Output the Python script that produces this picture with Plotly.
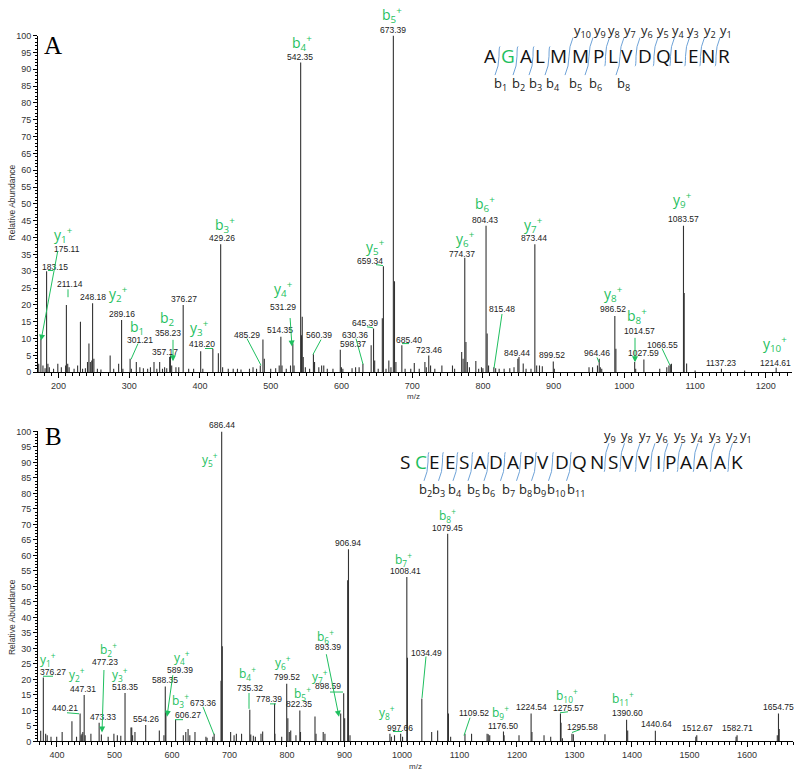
import plotly.graph_objects as go

W, H = 800, 777
GREEN = "#1fbf5f"
BLUE = "#6fa3d8"

# ---------------- data: panel A ----------------
A_mz = [175.11, 183.15, 211.14, 248.18, 289.16, 301.21, 357.17, 358.23, 376.27, 418.20,
        429.26, 485.29, 514.35, 531.29, 542.35, 560.39, 598.37, 630.36, 645.39, 659.34,
        673.39, 685.40, 723.46, 774.37, 804.43, 815.48, 849.44, 873.44, 899.52, 964.46,
        986.52, 1014.57, 1027.59, 1066.55, 1083.57, 1137.23, 1214.61,
        172, 178, 181, 185, 187, 193, 199, 204, 210, 213, 215, 222, 227, 231, 234, 238, 241,
        243, 245, 247, 250, 255, 260, 273, 278, 285, 291, 303, 310, 315, 320, 326, 330, 335,
        339, 343, 347, 350, 353, 360, 366, 370, 384, 391, 401, 404, 426, 432, 440, 447, 453,
        458, 470, 475, 480, 489, 491, 500, 507, 512, 516, 522, 528, 533, 543.5, 544.6, 546,
        549, 555, 562, 568, 572, 575, 580, 588, 600, 602, 615, 620, 625, 642, 647, 652, 657.8,
        663, 667, 670, 675, 677, 690, 698, 703, 710, 718, 720, 726, 732, 742, 757, 760, 770,
        772, 776, 778, 781, 790, 794, 798, 800, 806, 808, 818, 823, 830, 838, 844, 851, 857,
        861, 868, 876, 880, 884, 901, 950, 955, 962, 966, 968, 988, 1016, 1050, 1060, 1063,
        1065, 1084.6, 1088, 1100, 1170]
A_int = [10, 30, 20, 20.5, 15.5, 4, 4.5, 5, 20, 7,
         38, 2, 10.5, 8.5, 92, 5.3, 6.7, 2.5, 13, 31.5,
         100, 8, 5, 34, 43.5, 1.5, 4, 38, 3.2, 4,
         16.7, 3, 3.8, 2.5, 43.5, 1, 1.3,
         2.5, 2, 1.2, 2.5, 1.5, 1, 2.5, 1.5, 2, 2.5, 1.5, 1, 2, 15, 1, 1.2, 3,
         8.5, 3, 3.5, 4, 1, 0.8, 5, 1, 2.5, 1, 1, 3, 1.5, 1.2, 1, 1.5, 3,
         1, 3, 1, 1.5, 1.2, 2, 1.5, 1.5, 1, 1, 6.2, 1, 5.6, 1.5, 1, 1, 1,
         0.8, 1, 1.5, 1, 9.7, 4, 1, 1.2, 2, 2, 1, 2, 2, 11, 16.5, 4.5,
         1.5, 1, 3, 1.5, 2, 2, 1, 1, 1.5, 1, 1.2, 1.5, 1.5, 8, 3.5, 1, 16,
         1, 3.5, 1.5, 27, 3, 1, 1, 2.7, 1, 3, 1.5, 2, 1, 2, 2, 1, 6,
         4, 9, 3, 1.5, 3.3, 1, 1.5, 1.2, 11.5, 2, 1.2, 1, 1, 1.2, 1.5, 4.5, 2.6,
         1, 1, 2, 2, 1.8, 1, 1.5, 1.5, 2, 1.5, 1, 7, 1, 1, 1.5, 2,
         2.3, 23.5, 2.6, 0.5, 0.5]

# ---------------- data: panel B ----------------
B_mz = [376.27, 440.21, 447.31, 473.33, 477.23, 518.35, 554.26, 588.35, 589.39, 606.27,
        673.36, 686.44, 735.32, 778.39, 799.52, 822.35, 893.39, 898.59, 906.94, 997.66,
        1008.41, 1034.49, 1079.45, 1109.52, 1176.50, 1224.54, 1275.57, 1295.58, 1390.60,
        1440.64, 1512.67, 1582.71, 1654.75,
        371.7, 380.3, 383, 389.6, 399.5, 409, 426, 434, 442, 443.5, 445, 449, 459, 489, 499,
        505, 511, 528.7, 530, 531.5, 535.6, 578, 586, 619.7, 624, 628, 631, 640, 659, 661,
        671, 685.3, 687.5, 702, 708, 712, 721, 737, 741.5, 745, 754.8, 757.7, 779, 790.8,
        801.5, 804, 806.5, 815.6, 823.5, 848.7, 850.5, 863, 866, 900.3, 905.5, 909.6, 979,
        981.5, 987, 1001, 1009.5, 1051.6, 1062, 1080.8, 1084.6, 1121, 1148, 1150, 1152.6,
        1177.6, 1203.5, 1226, 1247, 1258.6, 1276.6, 1279, 1298, 1353, 1392.5, 1511, 1581,
        1652.7, 1656]
B_int = [20.6, 9, 15, 6, 2.2, 15.6, 5.3, 17.7, 9.2, 7,
         2.5, 100, 10.2, 12.2, 18.6, 10, 9, 15.5, 62, 2.5,
         53, 13.8, 67, 2.5, 3.2, 9, 9, 2.5, 7,
         3.4, 2, 2, 9,
         3.4, 2.5, 2, 1.5, 1.5, 3, 6.5, 1.5, 2, 2.5, 3, 2, 2.5, 1.5, 2.5,
         2, 1.8, 4.5, 4.5, 2, 3, 3.5, 2, 2, 3, 4, 2, 3, 1.5, 1.2,
         1.5, 19.6, 30.7, 3, 2, 2.5, 2.5, 2.2, 1.8, 1.5, 2.5, 3.2, 2.5, 1.5,
         7.5, 3, 3.5, 2, 3, 8, 2.5, 3, 2.5, 7.5, 52, 2, 2.5,
         1.5, 2, 1.5, 27, 3, 3.5, 9, 1.5, 2.5, 2.5, 2.3, 2,
         2, 2, 3, 2, 1.5, 6, 1, 2.3, 2.3, 3.5, 1.5, 1.5,
         2, 4]

# ---------------- peak annotations (text, pixel position) ----------------
A_mz_labels = ["175.11", "183.15", "211.14", "248.18", "289.16", "301.21", "358.23", "357.17",
               "376.27", "418.20", "429.26", "485.29", "514.35", "531.29", "542.35", "560.39",
               "598.37", "630.36", "645.39", "659.34", "673.39", "685.40", "723.46", "774.37",
               "804.43", "815.48", "849.44", "873.44", "899.52", "964.46", "986.52", "1014.57",
               "1027.59", "1066.55", "1083.57", "1137.23", "1214.61"]
A_mz_label_pos = [(67, 247), (55, 265), (70, 283), (93, 296), (122, 313), (140, 339), (168, 332),
                  (165, 352), (184, 298), (202, 343), (222, 236), (247, 334), (280, 329),
                  (283, 306), (300, 53), (319, 334), (353, 343), (355, 334), (365, 322),
                  (370, 259), (393, 25), (409, 339), (429, 349), (462, 252), (485, 218),
                  (502, 308), (517, 353), (534, 236), (552, 355), (597, 353), (613, 308),
                  (639, 330), (643, 353), (662, 344), (683, 217), (721, 363), (775, 363)]
A_ions = ["y<sub>1</sub><sup>+</sup>", "y<sub>2</sub><sup>+</sup>", "b<sub>1</sub>", "b<sub>2</sub>",
          "y<sub>3</sub><sup>+</sup>", "b<sub>3</sub><sup>+</sup>", "y<sub>4</sub><sup>+</sup>",
          "b<sub>4</sub><sup>+</sup>", "y<sub>5</sub><sup>+</sup>", "b<sub>5</sub><sup>+</sup>",
          "y<sub>6</sub><sup>+</sup>", "b<sub>6</sub><sup>+</sup>", "y<sub>7</sub><sup>+</sup>",
          "y<sub>8</sub><sup>+</sup>", "b<sub>8</sub><sup>+</sup>", "y<sub>9</sub><sup>+</sup>",
          "y<sub>10</sub><sup>+</sup>"]
A_ion_pos = [(63, 233), (118, 293), (137, 327), (167, 318), (199, 327), (225, 223), (283, 288),
             (302, 39), (375, 245), (392, 10), (465, 237), (485, 202), (533, 223), (613, 293),
             (637, 315), (682, 198), (775, 343)]
A_leaders = [(58, 249, 41, 340, True), (48, 269, 53, 269, False), (68, 288, 68, 296, False),
             (138, 343, 131, 359, False), (173, 338, 173, 361, True), (205, 348, 213, 348, False),
             (247, 338, 261, 365, False), (290, 316, 292, 346, True), (321, 339, 313, 354, False),
             (356, 338, 363, 364, False), (367, 326, 373, 327, False), (376, 263, 383, 264, False),
             (402, 343, 409, 343, False), (502, 313, 494, 368, False), (597, 357, 599, 362, False),
             (635, 336, 635, 362, True), (662, 348, 670, 365, False)]

B_mz_labels = ["376.27", "447.31", "440.21", "473.33", "477.23", "518.35", "554.26", "588.35",
               "589.39", "606.27", "673.36", "686.44", "735.32", "778.39", "799.52", "822.35",
               "893.39", "898.59", "906.94", "997.66", "1008.41", "1034.49", "1079.45", "1109.52",
               "1176.50", "1224.54", "1275.57", "1295.58", "1390.60", "1440.64", "1512.67",
               "1582.71", "1654.75"]
B_mz_label_pos = [(53, 676), (83, 693), (65, 712), (103, 721), (105, 666), (125, 691), (146, 723),
                  (165, 684), (180, 674), (188, 719), (203, 707), (222, 425), (250, 692),
                  (269, 703), (287, 681), (299, 708), (328, 650), (328, 690), (348, 545),
                  (400, 732), (405, 573), (426, 656), (447, 530), (474, 717), (503, 730),
                  (531, 711), (568, 712), (582, 731), (627, 717), (656, 728), (697, 732),
                  (737, 732), (778, 711)]
B_ions = ["y<sub>1</sub><sup>+</sup>", "y<sub>2</sub><sup>+</sup>", "b<sub>2</sub><sup>+</sup>",
          "y<sub>3</sub><sup>+</sup>", "y<sub>4</sub><sup>+</sup>", "b<sub>3</sub><sup>+</sup>",
          "y<sub>5</sub><sup>+</sup>", "b<sub>4</sub><sup>+</sup>", "y<sub>6</sub><sup>+</sup>",
          "b<sub>5</sub><sup>+</sup>", "b<sub>6</sub><sup>+</sup>", "y<sub>7</sub><sup>+</sup>",
          "y<sub>8</sub><sup>+</sup>", "b<sub>7</sub><sup>+</sup>", "b<sub>8</sub><sup>+</sup>",
          "b<sub>9</sub><sup>+</sup>", "b<sub>10</sub><sup>+</sup>", "b<sub>11</sub><sup>+</sup>"]
B_ion_pos = [(48, 663), (77, 678), (108, 653), (120, 678), (182, 661), (180, 705), (210, 460),
             (247, 677), (283, 666), (302, 697), (325, 640), (320, 680), (387, 717), (403, 562),
             (447, 517), (500, 717), (567, 700), (623, 703)]
B_leaders = [(43, 680, 53, 680, False), (67, 717, 79, 718, False), (104, 673, 102, 737, True),
             (173, 678, 167, 721, True), (175, 724, 183, 724, False), (203, 711, 214, 739, False),
             (249, 697, 249, 713, False), (270, 708, 276, 708, False), (326, 657, 339, 721, True),
             (330, 696, 343, 696, False), (393, 736, 402, 736, False), (426, 660, 422, 702, False),
             (470, 722, 464, 740, False), (560, 717, 568, 716, False), (580, 734, 572, 737, False)]

# ---------------- sequences ----------------
A_seq = list("AGALMMPLVDQLENR")
A_seq_x = [490, 508, 526, 540, 558, 580, 598, 613, 627, 645, 663, 678, 693, 708, 724]
A_seq_hi = [1]
A_y_frag = ["y<sub>10</sub>", "y<sub>9</sub>", "y<sub>8</sub>", "y<sub>7</sub>", "y<sub>6</sub>",
            "y<sub>5</sub>", "y<sub>4</sub>", "y<sub>3</sub>", "y<sub>2</sub>", "y<sub>1</sub>"]
A_y_frag_x = [582, 600, 614, 630, 647, 663, 678, 693, 710, 726]
A_y_gaps = [5, 6, 7, 8, 9, 10, 11, 12, 13, 14]
A_b_frag = ["b<sub>1</sub>", "b<sub>2</sub>", "b<sub>3</sub>", "b<sub>4</sub>", "b<sub>5</sub>",
            "b<sub>6</sub>", "b<sub>8</sub>"]
A_b_frag_x = [500, 518, 535, 553, 575, 595, 623]
A_b_gaps = [1, 2, 3, 4, 5, 6, 8]

B_seq = list("SCEESADAPVDQNSVVIPAAAK")
B_seq_x = [405, 421, 435, 450, 464, 480, 496, 513, 528, 543, 562, 579, 597, 613, 628, 644, 658,
           670, 686, 702, 720, 737]
B_seq_hi = [1]
B_y_frag = ["y<sub>9</sub>", "y<sub>8</sub>", "y<sub>7</sub>", "y<sub>6</sub>", "y<sub>5</sub>",
            "y<sub>4</sub>", "y<sub>3</sub>", "y<sub>2</sub>", "y<sub>1</sub>"]
B_y_frag_x = [610, 627, 645, 662, 680, 697, 715, 732, 746]
B_y_gaps = [13, 14, 15, 16, 17, 18, 19, 20, 21]
B_b_frag = ["b<sub>2</sub>", "b<sub>3</sub>", "b<sub>4</sub>", "b<sub>5</sub>", "b<sub>6</sub>",
            "b<sub>7</sub>", "b<sub>8</sub>", "b<sub>9</sub>", "b<sub>10</sub>", "b<sub>11</sub>"]
B_b_frag_x = [425, 439, 455, 473, 488, 508, 525, 539, 556, 576]
B_b_gaps = [2, 3, 4, 5, 6, 7, 8, 9, 10, 11]


def px(x):
    return x / W


def py(y):
    return 1 - y / H


def sticks(mz, inten):
    xs, ys = [], []
    for m, i in zip(mz, inten):
        xs += [m, m, None]
        ys += [0, i, None]
    return xs, ys


fig = go.Figure()
ax_, ay_ = sticks(A_mz, A_int)
fig.add_trace(go.Scatter(x=ax_, y=ay_, mode="lines", line=dict(color="#333333", width=1.1),
                         xaxis="x", yaxis="y", hoverinfo="skip", showlegend=False))
bx_, by_ = sticks(B_mz, B_int)
fig.add_trace(go.Scatter(x=bx_, y=by_, mode="lines", line=dict(color="#333333", width=1.1),
                         xaxis="x2", yaxis="y2", hoverinfo="skip", showlegend=False))

annotations = []
shapes = []

TICKFONT = dict(family="Liberation Sans, Arial", size=9, color="#333")


def xaxis_cfg(rng, dom):
    return dict(range=rng, domain=dom, showline=True, linecolor="black", linewidth=1,
                ticks="outside", ticklen=5, tickwidth=1, tickcolor="black", dtick=100, tick0=0,
                minor=dict(dtick=10, tick0=0, ticklen=3, ticks="outside", tickcolor="black",
                           tickwidth=1, showgrid=False),
                tickfont=TICKFONT, showgrid=False, zeroline=False, fixedrange=True)


def yaxis_cfg(dom, anchor):
    return dict(range=[0, 100], domain=dom, anchor=anchor, showline=True, linecolor="black",
                linewidth=1, ticks="outside", ticklen=4, tickwidth=1, tickcolor="black",
                dtick=5, tick0=0,
                minor=dict(dtick=1, tick0=0, ticklen=2, ticks="outside", tickcolor="black",
                           tickwidth=1, showgrid=False),
                tickfont=TICKFONT, showgrid=False, zeroline=False, fixedrange=True)


def text_ann(t, x, y, size, color, family="Liberation Sans, Arial", angle=0):
    annotations.append(dict(text=t, x=px(x), y=py(y), xref="paper", yref="paper",
                            showarrow=False, xanchor="center", yanchor="middle",
                            textangle=angle, font=dict(size=size, color=color, family=family)))


def leader(x0, y0, x1, y1, arrow):
    if arrow:
        annotations.append(dict(text="", x=px(x1), y=py(y1), xref="paper", yref="paper",
                                ax=x0 - x1, ay=y0 - y1, axref="pixel", ayref="pixel",
                                showarrow=True, arrowhead=2, arrowsize=1.2, arrowwidth=1,
                                arrowcolor=GREEN, standoff=0, startstandoff=0))
    else:
        shapes.append(dict(type="line", xref="paper", yref="paper", x0=px(x0), y0=py(y0),
                           x1=px(x1), y1=py(y1), line=dict(color=GREEN, width=1)))


def sequence(seq, xs, hi, yc, yfr, yfr_x, ygaps, bfr, bfr_x, bgaps):
    for k, (ch, x) in enumerate(zip(seq, xs)):
        text_ann(ch, x, yc, 19, GREEN if k in hi else "#111", family="Open Sans, Noto Sans")
    for t, x in zip(yfr, yfr_x):
        text_ann(t, x, yc - 26, 13, "#222", family="Open Sans, Noto Sans")
    for t, x in zip(bfr, bfr_x):
        text_ann(t, x, yc + 28, 13, "#222", family="Open Sans, Noto Sans")
    top, bot = yc - 10, yc + 10
    gaps = sorted(set(ygaps) | set(bgaps))
    for g in gaps:
        gx = (xs[g - 1] + xs[g]) / 2
        y_start = top - 9 if g in ygaps else top
        y_end = bot + 9 if g in bgaps else bot
        xa = gx + (4 if g in ygaps else 1)
        xb = gx - (4 if g in bgaps else 1)
        path = (f"M {px(xa):.5f} {py(y_start):.5f} Q {px(gx):.5f} {py(top):.5f} "
                f"{px(gx):.5f} {py(yc):.5f} Q {px(gx):.5f} {py(bot):.5f} {px(xb):.5f} {py(y_end):.5f}")
        shapes.append(dict(type="path", xref="paper", yref="paper", path=path,
                           line=dict(color=BLUE, width=1)))


for t, (x, y) in zip(A_mz_labels, A_mz_label_pos):
    text_ann(t, x, y, 8.5, "#222")
for t, (x, y) in zip(A_ions, A_ion_pos):
    text_ann(t, x, y, 14, GREEN, family="Open Sans, Noto Sans")
for l in A_leaders:
    leader(*l)
for t, (x, y) in zip(B_mz_labels, B_mz_label_pos):
    text_ann(t, x, y, 8.5, "#222")
for t, (x, y) in zip(B_ions, B_ion_pos):
    text_ann(t, x, y, 12, GREEN, family="Open Sans, Noto Sans")
for l in B_leaders:
    leader(*l)

sequence(A_seq, A_seq_x, A_seq_hi, 52, A_y_frag, A_y_frag_x, A_y_gaps,
         A_b_frag, A_b_frag_x, A_b_gaps)
sequence(B_seq, B_seq_x, B_seq_hi, 463, B_y_frag, B_y_frag_x, B_y_gaps,
         B_b_frag, B_b_frag_x, B_b_gaps)

text_ann("A", 53, 41, 25, "black", family="Liberation Serif, Times New Roman")
text_ann("B", 53, 437, 25, "black", family="Liberation Serif, Times New Roman")
text_ann("Relative Abundance", 12, 200, 8.5, "#333", angle=-90)
text_ann("Relative Abundance", 12, 620, 8.5, "#333", angle=-90)
text_ann("m/z", 413, 397, 8, "#333")
text_ann("m/z", 415, 771, 8, "#333")

fig.update_layout(
    width=W, height=H, margin=dict(l=0, r=0, t=0, b=0),
    paper_bgcolor="white", plot_bgcolor="white",
    xaxis=xaxis_cfg([171, 1237], [38 / W, 792 / W]) | dict(anchor="y"),
    yaxis=yaxis_cfg([1 - 372 / H, 1 - 31 / H], "x"),
    xaxis2=xaxis_cfg([367, 1680], [38 / W, 793 / W]) | dict(anchor="y2"),
    yaxis2=yaxis_cfg([1 - 746 / H, 1 - 432 / H], "x2"),
    annotations=annotations, shapes=shapes, showlegend=False,
)

fig.write_html("out.html", config={"displayModeBar": False},
               post_script="document.body.style.margin='0';document.body.style.overflow='hidden';")
